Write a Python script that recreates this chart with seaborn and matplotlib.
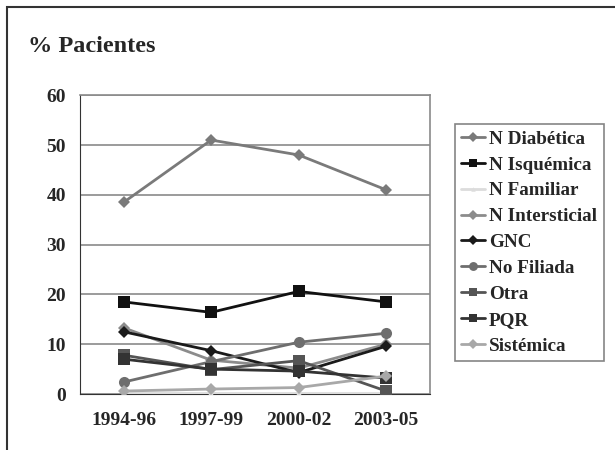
import numpy as np
import pandas as pd
import matplotlib
matplotlib.use('Agg')
import matplotlib.pyplot as plt
import seaborn as sns
from matplotlib.patches import Rectangle

periods = ['1994-96', '1997-99', '2000-02', '2003-05']

n_diabetica = [38.5, 51.0, 48.0, 41.0]
n_isquemica = [18.5, 16.4, 20.6, 18.5]
n_familiar = [0.2, 0.2, 0.2, 0.2]
n_intersticial = [13.3, 6.8, 5.2, 10.0]
gnc = [12.5, 8.7, 4.3, 9.6]
no_filiada = [2.4, 6.5, 10.4, 12.2]
otra = [7.8, 4.9, 6.7, 0.6]
pqr = [7.0, 5.0, 4.6, 3.2]
sistemica = [0.6, 1.0, 1.3, 3.6]

series = {
    'N Diabética': n_diabetica,
    'N Isquémica': n_isquemica,
    'N Familiar': n_familiar,
    'N Intersticial': n_intersticial,
    'GNC': gnc,
    'No Filiada': no_filiada,
    'Otra': otra,
    'PQR': pqr,
    'Sistémica': sistemica,
}

colors = {
    'N Diabética': '#7a7a7a',
    'N Isquémica': '#111111',
    'N Familiar': '#dcdcdc',
    'N Intersticial': '#8c8c8c',
    'GNC': '#1a1a1a',
    'No Filiada': '#6e6e6e',
    'Otra': '#555555',
    'PQR': '#333333',
    'Sistémica': '#a8a8a8',
}
markers = {
    'N Diabética': 'D', 'N Isquémica': 's', 'N Familiar': '^',
    'N Intersticial': 'D', 'GNC': 'D', 'No Filiada': 'o',
    'Otra': 's', 'PQR': 's', 'Sistémica': 'D',
}
msize = {
    'N Diabética': 6, 'N Isquémica': 8, 'N Familiar': 4,
    'N Intersticial': 6, 'GNC': 6, 'No Filiada': 8,
    'Otra': 8, 'PQR': 8, 'Sistémica': 6,
}

rows = []
for name, vals in series.items():
    for i, p in enumerate(periods):
        rows.append({'serie': name, 'pos': i, 'periodo': p, 'valor': vals[i]})
df = pd.DataFrame(rows)

sns.set_style('white')
plt.rcParams['font.family'] = ['Liberation Serif', 'DejaVu Serif']
plt.rcParams['font.weight'] = 'bold'

fig = plt.figure(figsize=(6.15, 4.5), dpi=100)
ax = fig.add_axes([0.130, 0.1244, 0.569, 0.664])

for name in series:
    d = df[df['serie'] == name]
    sns.lineplot(data=d, x='pos', y='valor', ax=ax, color=colors[name],
                 marker=markers[name], markersize=msize[name], markeredgewidth=0,
                 linewidth=2, label=name, zorder=3)

ax.set_xlim(-0.5, 3.5)
ax.set_ylim(0, 60)
ax.set_yticks(range(0, 61, 10))
ax.set_xticks([-0.5, 0.5, 1.5, 2.5, 3.5])
ax.set_xticklabels([])
ax.set_xticks(range(len(periods)), minor=True)
ax.set_xticklabels(periods, minor=True)
ax.tick_params(axis='x', which='major', direction='out', length=5, width=1, color='#333333')
ax.tick_params(axis='x', which='minor', length=0, pad=13, labelsize=14)
ax.tick_params(axis='y', direction='out', length=5, width=1, color='#333333', labelsize=14, pad=5)
ax.set_xlabel('')
ax.set_ylabel('')
for t in ax.get_xticklabels(minor=True) + ax.get_yticklabels():
    t.set_fontweight('bold')

ax.yaxis.grid(True, color='#8a8a8a', linewidth=1.2)
ax.set_axisbelow(True)
for s in ['top', 'right']:
    ax.spines[s].set_color('#8a8a8a')
    ax.spines[s].set_linewidth(1.2)
ax.spines['left'].set_color('#333333')
ax.spines['bottom'].set_color('#333333')

leg = ax.legend(loc='upper left', bbox_to_anchor=(1.071, 0.905), frameon=True,
                fancybox=False, edgecolor='#666666', fontsize=13.8,
                labelspacing=0.44, handlelength=1.25, handletextpad=0.2,
                borderpad=0.35, borderaxespad=0, markerscale=0.8)
leg.get_frame().set_linewidth(1.2)
for t in leg.get_texts():
    t.set_fontweight('bold')

fig.text(28 / 615, 1 - 47 / 450, '% Pacientes', fontsize=17.5, fontweight='bold',
         ha='left', va='center')

fig.patches.append(Rectangle((7 / 615, -0.2), 1.5, 1 - 7 / 450 + 0.2,
                             transform=fig.transFigure, fill=False,
                             edgecolor='#333333', linewidth=1.5))

fig.savefig('out.png', dpi=100)
